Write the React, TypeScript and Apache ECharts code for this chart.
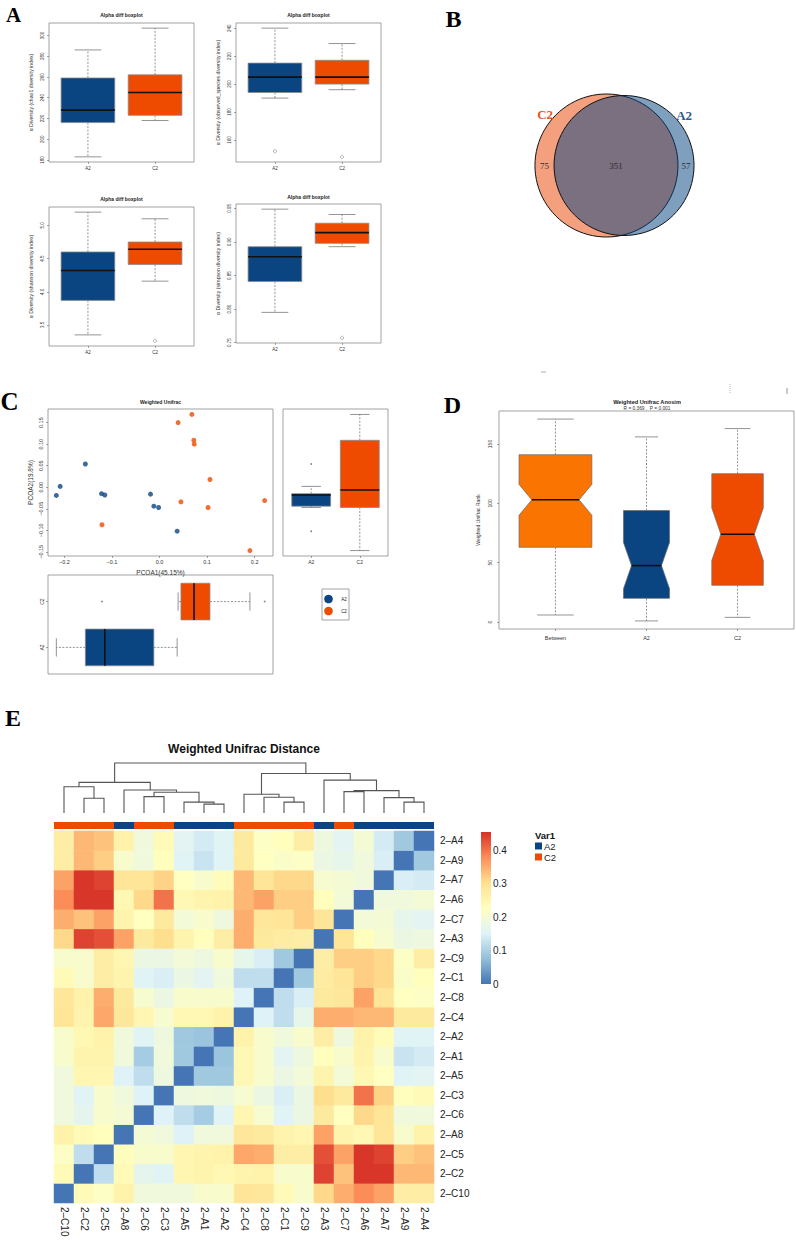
import React, { useEffect, useRef } from 'react';
import * as echarts from 'echarts';

const SANS = '"Liberation Sans", Arial, Helvetica, sans-serif';
const SERIF = '"Liberation Serif", "Times New Roman", serif';
const BLUE = '#0A4582';
const ORANGE = '#EF4B00';
const ORANGE_BETWEEN = '#F97400';

// ---------------- Panel A : alpha diversity ----------------
const alphaGroups = ['A2', 'C2'];
// [min, q1, median, q3, max] per group
const chao1Box = [[183, 216, 228, 259, 286], [218, 223, 245, 262, 307]];
const chao1Outliers: number[][] = [];
const chao1Ticks = [180, 200, 220, 240, 260, 280, 300];
const observedBox = [[190, 194, 205, 215, 240], [196, 200, 205, 217, 229]];
const observedOutliers = [[1, 152], [2, 148]];
const observedTicks = [160, 180, 200, 220, 240];
const shannonBox = [[3.35, 3.87, 4.32, 4.6, 5.2], [4.16, 4.41, 4.64, 4.75, 5.1]];
const shannonOutliers = [[2, 3.26]];
const shannonTicks = [3.5, 4.0, 4.5, 5.0];
const simpsonBox = [[0.795, 0.841, 0.878, 0.893, 0.949], [0.893, 0.898, 0.914, 0.928, 0.941]];
const simpsonOutliers = [[2, 0.757]];
const simpsonTicks = [0.75, 0.8, 0.85, 0.9, 0.95];

// ---------------- Panel B : Venn ----------------
const vennNames = ['C2', 'A2'];
const vennUnique = [75, 57];
const vennShared = 351;

// ---------------- Panel C : PCoA ----------------
const pcoaGroups = ['A2', 'C2'];
const pcoaA2 = [[-0.156, 0.054], [-0.209, 0.002], [-0.217, -0.019], [-0.122, -0.015], [-0.115, -0.018], [-0.019, -0.016], [-0.012, -0.044], [-0.002, -0.047], [0.037, -0.102]];
const pcoaC2 = [[0.068, 0.169], [0.039, 0.15], [0.072, 0.109], [0.073, 0.1], [0.106, 0.018], [0.045, -0.034], [0.102, -0.047], [0.221, -0.031], [-0.121, -0.087], [0.19, -0.147]];
const pcoaXTicks = [-0.2, -0.1, 0, 0.1, 0.2];
const pcoaYTicks = [-0.15, -0.1, -0.05, 0, 0.05, 0.1, 0.15];

// ---------------- Panel D : ANOSIM ----------------
const anosimGroups = ['Between', 'A2', 'C2'];
const anosimBox = [[6, 63, 103, 141, 171], [1, 20, 47.6, 94, 156], [4, 31, 74, 125, 163]];
const anosimN = [90, 36, 45];
const anosimTicks = [0, 50, 100, 150];

// ---------------- Panel E : distance heatmap ----------------
const heatSamples = ['2-C10', '2-C2', '2-C5', '2-A8', '2-C6', '2-C3', '2-A5', '2-A1', '2-A2', '2-C4', '2-C8', '2-C1', '2-C9', '2-A3', '2-C7', '2-A6', '2-A7', '2-A9', '2-A4'];
const distMatrix = [
  [0, 0.24, 0.22, 0.26, 0.19, 0.19, 0.19, 0.21, 0.21, 0.29, 0.285, 0.24, 0.21, 0.31, 0.35, 0.38, 0.36, 0.27, 0.27],
  [0.24, 0, 0.12, 0.24, 0.165, 0.155, 0.25, 0.255, 0.245, 0.255, 0.26, 0.21, 0.21, 0.44, 0.33, 0.45, 0.45, 0.34, 0.34],
  [0.22, 0.12, 0, 0.23, 0.21, 0.21, 0.25, 0.255, 0.26, 0.355, 0.35, 0.27, 0.27, 0.43, 0.36, 0.45, 0.44, 0.32, 0.33],
  [0.26, 0.24, 0.23, 0, 0.2, 0.19, 0.15, 0.19, 0.19, 0.285, 0.28, 0.255, 0.25, 0.36, 0.255, 0.245, 0.29, 0.21, 0.26],
  [0.19, 0.165, 0.21, 0.2, 0, 0.15, 0.12, 0.095, 0.155, 0.25, 0.205, 0.155, 0.18, 0.28, 0.225, 0.31, 0.29, 0.19, 0.19],
  [0.19, 0.155, 0.21, 0.19, 0.15, 0, 0.185, 0.19, 0.185, 0.205, 0.18, 0.145, 0.18, 0.305, 0.28, 0.4, 0.315, 0.23, 0.24],
  [0.19, 0.25, 0.25, 0.15, 0.12, 0.185, 0, 0.09, 0.09, 0.245, 0.21, 0.18, 0.195, 0.255, 0.195, 0.245, 0.225, 0.155, 0.16],
  [0.21, 0.255, 0.255, 0.19, 0.095, 0.19, 0.09, 0, 0.085, 0.245, 0.21, 0.16, 0.185, 0.23, 0.21, 0.255, 0.21, 0.13, 0.14],
  [0.21, 0.245, 0.26, 0.19, 0.155, 0.185, 0.09, 0.085, 0, 0.26, 0.21, 0.19, 0.21, 0.27, 0.185, 0.26, 0.235, 0.155, 0.155],
  [0.29, 0.255, 0.355, 0.285, 0.25, 0.205, 0.245, 0.245, 0.26, 0, 0.15, 0.12, 0.17, 0.35, 0.35, 0.34, 0.34, 0.28, 0.28],
  [0.285, 0.26, 0.35, 0.28, 0.205, 0.18, 0.21, 0.21, 0.21, 0.15, 0, 0.12, 0.145, 0.28, 0.285, 0.36, 0.29, 0.225, 0.22],
  [0.24, 0.21, 0.27, 0.255, 0.155, 0.145, 0.18, 0.16, 0.19, 0.12, 0.12, 0, 0.09, 0.275, 0.29, 0.32, 0.31, 0.215, 0.23],
  [0.21, 0.21, 0.27, 0.25, 0.18, 0.18, 0.195, 0.185, 0.21, 0.17, 0.145, 0.09, 0, 0.27, 0.32, 0.32, 0.31, 0.22, 0.27],
  [0.31, 0.44, 0.43, 0.36, 0.28, 0.305, 0.255, 0.23, 0.27, 0.35, 0.28, 0.275, 0.27, 0, 0.29, 0.23, 0.205, 0.18, 0.185],
  [0.35, 0.33, 0.36, 0.255, 0.225, 0.28, 0.195, 0.21, 0.185, 0.35, 0.285, 0.29, 0.32, 0.29, 0, 0.195, 0.2, 0.17, 0.16],
  [0.38, 0.45, 0.45, 0.245, 0.31, 0.4, 0.245, 0.255, 0.26, 0.34, 0.36, 0.32, 0.32, 0.23, 0.195, 0, 0.19, 0.19, 0.2],
  [0.36, 0.45, 0.44, 0.29, 0.29, 0.315, 0.225, 0.21, 0.235, 0.34, 0.29, 0.31, 0.31, 0.205, 0.2, 0.19, 0, 0.145, 0.14],
  [0.27, 0.34, 0.32, 0.21, 0.19, 0.23, 0.155, 0.13, 0.155, 0.28, 0.225, 0.215, 0.22, 0.18, 0.17, 0.19, 0.145, 0, 0.09],
  [0.27, 0.34, 0.33, 0.26, 0.19, 0.24, 0.16, 0.14, 0.155, 0.28, 0.22, 0.23, 0.27, 0.185, 0.16, 0.2, 0.14, 0.09, 0],
];
// hclust-style merges: negative = leaf (1-based column), positive = earlier merge (1-based); third = height
const dendroMerges = [
  [-8, -9, 0.178], [-2, -3, 0.296], [-7, 1, 0.217], [-12, -13, 0.217], [-18, -19, 0.217],
  [-5, -6, 0.328], [-17, 5, 0.308], [-11, 4, 0.316], [-10, 8, 0.375], [6, 3, 0.415],
  [-15, -16, 0.427], [11, 7, 0.447], [-4, 10, 0.461], [-1, 2, 0.526], [14, 13, 0.613],
  [-14, 12, 0.658], [9, 16, 0.79], [15, 17, 1.0],
];
const heatPalette = ['#4575B4', '#91BFDB', '#E0F3F8', '#FFFFBF', '#FEE090', '#FC8D59', '#D73027'];
const heatMax = 0.455;
const colorbarTicks = [0, 0.1, 0.2, 0.3, 0.4];

// ---------------- helpers ----------------
const rRange = (vals: number[]) => {
  const mn = Math.min(...vals), mx = Math.max(...vals);
  const e = (mx - mn) * 0.04;
  return [mn - e, mx + e];
};
const fmtNum = (v: number, d: number) => (v < -1e-12 ? '\u2212' : '') + Math.abs(v).toFixed(d);

function fivenum(arr: number[]) {
  const x = [...arr].sort((a, b) => a - b);
  const n = x.length;
  const n4 = Math.floor((n + 3) / 2) / 2;
  const d = [1, n4, (n + 1) / 2, n + 1 - n4, n];
  return d.map((p) => 0.5 * (x[Math.floor(p) - 1] + x[Math.ceil(p) - 1]));
}
function boxStats(arr: number[]) {
  const [, q1, md, q3] = fivenum(arr);
  const iqr = q3 - q1;
  const lo = q1 - 1.5 * iqr, hi = q3 + 1.5 * iqr;
  const inside = arr.filter((v) => v >= lo && v <= hi);
  const out = arr.filter((v) => v < lo || v > hi);
  return { stats: [Math.min(...inside), q1, md, q3, Math.max(...inside)], out };
}

const WHISKER = { stroke: '#666', lineWidth: 0.7, lineDash: [2, 1.5] };
const CAP = { stroke: '#666', lineWidth: 0.7 };

const boxRender = (colors: string[], horizontal: boolean) => (params: any, api: any) => {
  const c = api.value(0), mn = api.value(1), q1 = api.value(2), md = api.value(3), q3 = api.value(4), mx = api.value(5), w = api.value(6);
  const P = (cv: number, vv: number) => (horizontal ? api.coord([vv, cv]) : api.coord([cv, vv]));
  const line = (a: number[], b: number[], style: any) => ({ type: 'line', shape: { x1: a[0], y1: a[1], x2: b[0], y2: b[1] }, style });
  const p1 = P(c - w / 2, q1), p2 = P(c + w / 2, q3);
  return {
    type: 'group',
    children: [
      line(P(c, q3), P(c, mx), WHISKER),
      line(P(c, q1), P(c, mn), WHISKER),
      line(P(c - w / 4, mx), P(c + w / 4, mx), CAP),
      line(P(c - w / 4, mn), P(c + w / 4, mn), CAP),
      {
        type: 'rect',
        shape: { x: Math.min(p1[0], p2[0]), y: Math.min(p1[1], p2[1]), width: Math.abs(p2[0] - p1[0]), height: Math.abs(p2[1] - p1[1]) },
        style: { fill: colors[params.dataIndex], stroke: '#8a8a8a', lineWidth: 0.8 },
      },
      line(P(c - w / 2, md), P(c + w / 2, md), { stroke: '#111', lineWidth: 1.6 }),
    ],
  };
};

const NOTCH = 0.65;
const notchRender = (colors: string[]) => (params: any, api: any) => {
  const v = (k: number) => api.value(k);
  const c = v(0), mn = v(1), q1 = v(2), nlo = v(3), md = v(4), nhi = v(5), q3 = v(6), mx = v(7), w = v(8);
  const h = w / 2, hn = h * NOTCH;
  const P = (x: number, y: number) => api.coord([x, y]);
  const line = (a: number[], b: number[], style: any) => ({ type: 'line', shape: { x1: a[0], y1: a[1], x2: b[0], y2: b[1] }, style });
  const pts = [P(c - h, q1), P(c + h, q1), P(c + h, nlo), P(c + hn, md), P(c + h, nhi), P(c + h, q3), P(c - h, q3), P(c - h, nhi), P(c - hn, md), P(c - h, nlo)];
  return {
    type: 'group',
    children: [
      line(P(c, q3), P(c, mx), WHISKER),
      line(P(c, q1), P(c, mn), WHISKER),
      line(P(c - h / 2, mx), P(c + h / 2, mx), CAP),
      line(P(c - h / 2, mn), P(c + h / 2, mn), CAP),
      { type: 'polygon', shape: { points: pts }, style: { fill: colors[params.dataIndex], stroke: '#6a6a6a', lineWidth: 0.7 } },
      line(P(c - hn, md), P(c + hn, md), { stroke: '#111', lineWidth: 1.6 }),
    ],
  };
};

function valueAxis(gridIndex: number, range: number[], o: any = null) {
  if (!o) return { type: 'value', gridIndex, min: range[0], max: range[1], show: false, axisLine: { onZero: false } };
  return {
    type: 'value',
    gridIndex,
    min: range[0],
    max: range[1],
    position: o.position,
    axisLine: { show: false, onZero: false },
    splitLine: { show: false },
    axisTick: { show: o.tick !== false, customValues: o.ticks, length: 2, lineStyle: { color: '#666', width: 0.6 } },
    axisLabel: {
      show: true,
      customValues: o.ticks,
      formatter: o.fmt,
      rotate: o.rotate || 0,
      fontSize: o.size || 5,
      margin: o.margin == null ? 3 : o.margin,
      color: '#333',
      fontFamily: SANS,
    },
  };
}

function buildOption() {
  const grid: any[] = [], xAxis: any[] = [], yAxis: any[] = [], series: any[] = [], graphic: any[] = [];
  const addGrid = (rect: any, frame = true) => {
    grid.push({ ...rect, show: frame, borderColor: '#8c8c8c', borderWidth: 0.8, backgroundColor: 'transparent' });
    return grid.length - 1;
  };
  const text = (x: number, y: number, s: string, o: any = {}) =>
    graphic.push({
      type: 'text', x, y, rotation: o.rot || 0, silent: true,
      style: {
        text: s, fontSize: o.size || 6, fontFamily: o.family || SANS, fontWeight: o.bold ? 'bold' : 'normal',
        fill: o.color || '#222', align: o.align || 'center', verticalAlign: 'middle',
        textAlign: o.align || 'center', textVerticalAlign: 'middle',
      },
    });
  const boxSeries = (gi: number, items: number[][], colors: string[], horizontal: boolean) => ({
    type: 'custom', coordinateSystem: 'cartesian2d', xAxisIndex: gi, yAxisIndex: gi, silent: true, clip: false,
    renderItem: boxRender(colors, horizontal), data: items,
  });
  const outlierSeries = (gi: number, pts: number[][], hollow: boolean) => ({
    type: 'scatter', xAxisIndex: gi, yAxisIndex: gi, silent: true, symbol: 'circle', symbolSize: hollow ? 3.2 : 1.8,
    itemStyle: hollow ? { color: 'transparent', borderColor: '#666', borderWidth: 0.6 } : { color: '#666' },
    data: pts,
  });

  // ---------- Panel A ----------
  const alphaPanels = [
    { rect: { left: 49, top: 23, width: 145, height: 139 }, box: chao1Box, out: chao1Outliers, ticks: chao1Ticks, fmt: (v: number) => String(v), titleY: 15, ylab: 'α Diversity (chao1 diversity index)', ylabX: 31 },
    { rect: { left: 236, top: 23, width: 145, height: 139 }, box: observedBox, out: observedOutliers, ticks: observedTicks, fmt: (v: number) => String(v), titleY: 15, ylab: 'α Diversity (observed_species diversity index)', ylabX: 218 },
    { rect: { left: 49, top: 207, width: 145, height: 139 }, box: shannonBox, out: shannonOutliers, ticks: shannonTicks, fmt: (v: number) => v.toFixed(1), titleY: 199, ylab: 'α Diversity (shannon diversity index)', ylabX: 31 },
    { rect: { left: 236, top: 204, width: 145, height: 139 }, box: simpsonBox, out: simpsonOutliers, ticks: simpsonTicks, fmt: (v: number) => v.toFixed(2), titleY: 197, ylab: 'α Diversity (simpson diversity index)', ylabX: 218 },
  ];
  alphaPanels.forEach((p) => {
    const gi = addGrid(p.rect);
    const yR = rRange([...p.box.flat(), ...p.out.map((o) => o[1])]);
    const xR = rRange([0.5, p.box.length + 0.5]);
    xAxis.push(valueAxis(gi, xR, { ticks: [1, 2], fmt: (v: number) => alphaGroups[Math.round(v) - 1], size: 4.5, margin: 4 }));
    yAxis.push(valueAxis(gi, yR, { ticks: p.ticks, fmt: p.fmt, rotate: 90, size: 4.5, margin: 4 }));
    series.push(boxSeries(gi, p.box.map((b, i) => [i + 1, ...b, 0.8]), [BLUE, ORANGE], false));
    if (p.out.length) series.push(outlierSeries(gi, p.out, true));
    text(p.rect.left + p.rect.width / 2, p.titleY, 'Alpha diff boxplot', { size: 5, bold: true });
    text(p.ylabX, p.rect.top + p.rect.height / 2, p.ylab, { size: 5.2, rot: Math.PI / 2, color: '#333' });
  });

  // ---------- Panel B : Venn ----------
  const totals = [vennUnique[0] + vennShared, vennUnique[1] + vennShared];
  const r1 = Math.sqrt(totals[0] / Math.PI), r2 = Math.sqrt(totals[1] / Math.PI);
  const lens = (d: number) => {
    const a1 = Math.acos((d * d + r1 * r1 - r2 * r2) / (2 * d * r1));
    const a2 = Math.acos((d * d + r2 * r2 - r1 * r1) / (2 * d * r2));
    return r1 * r1 * a1 + r2 * r2 * a2 - 0.5 * Math.sqrt((-d + r1 + r2) * (d + r1 - r2) * (d - r1 + r2) * (d + r1 + r2));
  };
  let lo = Math.abs(r1 - r2) + 1e-6, hi = r1 + r2;
  for (let k = 0; k < 60; k++) {
    const mid = (lo + hi) / 2;
    if (lens(mid) > vennShared) lo = mid; else hi = mid;
  }
  const dist = (lo + hi) / 2;
  const gV = addGrid({ left: 520.5, top: 79.5, width: 196.5, height: 172 }, false);
  xAxis.push(valueAxis(gV, [-14, 18]));
  yAxis.push(valueAxis(gV, [-14, 14]));
  const vennFill = ['rgba(233,65,0,0.5)', 'rgba(0,64,128,0.5)'];
  const vennLabelColor = ['#E8552A', '#2F5A8C'];
  series.push({
    type: 'custom', coordinateSystem: 'cartesian2d', xAxisIndex: gV, yAxisIndex: gV, silent: true, clip: false,
    data: [[0, r1], [dist, r2]],
    renderItem: (params: any, api: any) => {
      const i = params.dataIndex;
      const c = api.coord([api.value(0), 0]);
      const rp = api.size([api.value(1), 0])[0];
      const ang = (40 * Math.PI) / 180;
      const sx = i === 0 ? -1 : 1;
      return {
        type: 'group',
        children: [
          { type: 'circle', shape: { cx: c[0], cy: c[1], r: rp }, style: { fill: vennFill[i], stroke: '#111', lineWidth: 1 } },
          {
            type: 'text',
            style: {
              text: vennNames[i], x: c[0] + sx * Math.cos(ang) * rp * 1.12, y: c[1] - Math.sin(ang) * rp * 1.12,
              fill: vennLabelColor[i], fontSize: 13, fontWeight: 'bold', fontFamily: SERIF,
              align: 'center', verticalAlign: 'middle', textAlign: 'center', textVerticalAlign: 'middle',
            },
          },
        ],
      };
    },
  });
  const vennCounts = [
    [(-r1 + dist - r2) / 2, vennUnique[0]],
    [(dist - r2 + r1) / 2, vennShared],
    [(r1 + dist + r2) / 2, vennUnique[1]],
  ];
  series.push({
    type: 'custom', coordinateSystem: 'cartesian2d', xAxisIndex: gV, yAxisIndex: gV, silent: true, clip: false,
    data: vennCounts,
    renderItem: (params: any, api: any) => {
      const c = api.coord([api.value(0), 0]);
      return {
        type: 'text',
        style: {
          text: String(api.value(1)), x: c[0], y: c[1], fill: '#2a2a2a', fontSize: 9, fontFamily: SERIF,
          align: 'center', verticalAlign: 'middle', textAlign: 'center', textVerticalAlign: 'middle',
        },
      };
    },
  });

  // ---------- Panel C : PCoA ----------
  const allPts = [...pcoaA2, ...pcoaC2];
  const pxR = rRange(allPts.map((p) => p[0]));
  const pyR = rRange(allPts.map((p) => p[1]));
  const gS = addGrid({ left: 48, top: 409, width: 225, height: 147 });
  xAxis.push(valueAxis(gS, pxR, { ticks: pcoaXTicks, fmt: (v: number) => fmtNum(v, 1), size: 5.5, margin: 3 }));
  yAxis.push(valueAxis(gS, pyR, { ticks: pcoaYTicks, fmt: (v: number) => fmtNum(v, 2), rotate: 90, size: 5.5, margin: 4 }));
  [pcoaA2, pcoaC2].forEach((pts, i) =>
    series.push({ type: 'scatter', xAxisIndex: gS, yAxisIndex: gS, silent: true, symbol: 'circle', symbolSize: 5, itemStyle: { color: i === 0 ? BLUE : ORANGE }, data: pts }),
  );
  text(160.5, 402, 'Weighted Unifrac', { size: 5, bold: true });
  text(30, 482.5, 'PCOA2(19.8%)', { size: 6.5, rot: Math.PI / 2, color: '#333' });
  text(160.5, 572, 'PCOA1(45.15%)', { size: 6.5, color: '#333' });

  const catR = rRange([0.5, 2.5]);
  // right box: PCoA2 by group
  const gR = addGrid({ left: 283, top: 409, width: 105, height: 147 });
  xAxis.push(valueAxis(gR, catR, { ticks: [1, 2], fmt: (v: number) => pcoaGroups[Math.round(v) - 1], size: 5, margin: 3 }));
  yAxis.push(valueAxis(gR, pyR));
  const yStats = [pcoaA2, pcoaC2].map((pts) => boxStats(pts.map((p) => p[1])));
  series.push(boxSeries(gR, yStats.map((s, i) => [i + 1, ...s.stats, 0.8]), [BLUE, ORANGE], false));
  series.push(outlierSeries(gR, yStats.flatMap((s, i) => s.out.map((v) => [i + 1, v])), false));
  // bottom box: PCoA1 by group
  const gB = addGrid({ left: 48, top: 575, width: 225, height: 99 });
  xAxis.push(valueAxis(gB, pxR));
  yAxis.push(valueAxis(gB, catR, { ticks: [1, 2], fmt: (v: number) => pcoaGroups[Math.round(v) - 1], rotate: 90, size: 5, margin: 4 }));
  const xStats = [pcoaA2, pcoaC2].map((pts) => boxStats(pts.map((p) => p[0])));
  series.push(boxSeries(gB, xStats.map((s, i) => [i + 1, ...s.stats, 0.8]), [BLUE, ORANGE], true));
  series.push(outlierSeries(gB, xStats.flatMap((s, i) => s.out.map((v) => [v, i + 1])), false));
  // legend
  graphic.push({ type: 'rect', shape: { x: 322, y: 589, width: 27, height: 31 }, style: { fill: '#fff', stroke: '#8c8c8c', lineWidth: 0.8 }, silent: true });
  graphic.push({ type: 'circle', shape: { cx: 328.5, cy: 599, r: 4.3 }, style: { fill: BLUE }, silent: true });
  graphic.push({ type: 'circle', shape: { cx: 328.5, cy: 611, r: 4.3 }, style: { fill: ORANGE }, silent: true });
  text(344, 599, 'A2', { size: 4.5 });
  text(344, 611, 'C2', { size: 4.5 });

  // ---------- Panel D : ANOSIM ----------
  const gD = addGrid({ left: 499, top: 411, width: 295, height: 218 });
  xAxis.push(valueAxis(gD, rRange([0.5, anosimGroups.length + 0.5]), { ticks: [1, 2, 3], fmt: (v: number) => anosimGroups[Math.round(v) - 1], size: 5.5, margin: 6 }));
  yAxis.push(valueAxis(gD, rRange(anosimBox.flat()), { ticks: anosimTicks, fmt: (v: number) => String(v), rotate: 90, size: 5, margin: 7 }));
  const nMax = Math.max(...anosimN);
  const dItems = anosimBox.map((b, i) => {
    const [mn, q1, md, q3, mx] = b;
    const half = (1.58 * (q3 - q1)) / Math.sqrt(anosimN[i]);
    return [i + 1, mn, q1, md - half, md, md + half, q3, mx, 0.8 * Math.sqrt(anosimN[i] / nMax)];
  });
  series.push({ type: 'custom', coordinateSystem: 'cartesian2d', xAxisIndex: gD, yAxisIndex: gD, silent: true, clip: false, renderItem: notchRender([ORANGE_BETWEEN, BLUE, ORANGE]), data: dItems });
  text(647, 401.5, 'Weighted Unifrac Anosim', { size: 5.6, bold: true });
  text(647, 408.2, 'R = 0.369 ,  P = 0.001', { size: 4.8, color: '#333' });
  text(478, 520, 'Weighted Unifrac Rank', { size: 5, rot: Math.PI / 2, color: '#333' });

  // ---------- Panel E : heatmap ----------
  const nS = heatSamples.length;
  const sampleLabel = (s: string) => s.replace('-', '\u2013');
  // dendrogram
  const pos: number[] = [], hgt: number[] = [];
  const node = (k: number) => (k < 0 ? [-k - 1, 0] : [pos[k - 1], hgt[k - 1]]);
  const dendroSegs = dendroMerges.map(([a, b, h], i) => {
    const [xa, ha] = node(a), [xb, hb] = node(b);
    pos[i] = (xa + xb) / 2;
    hgt[i] = h;
    return [xa, ha, xb, hb, h];
  });
  const gDen = addGrid({ left: 54, top: 763, width: 380, height: 50 }, false);
  xAxis.push(valueAxis(gDen, [-0.5, nS - 0.5]));
  yAxis.push(valueAxis(gDen, [0, 1]));
  series.push({
    type: 'custom', coordinateSystem: 'cartesian2d', xAxisIndex: gDen, yAxisIndex: gDen, silent: true, clip: false,
    data: dendroSegs,
    renderItem: (params: any, api: any) => {
      const xa = api.value(0), ha = api.value(1), xb = api.value(2), hb = api.value(3), h = api.value(4);
      return {
        type: 'polyline',
        shape: { points: [api.coord([xa, ha]), api.coord([xa, h]), api.coord([xb, h]), api.coord([xb, hb])] },
        style: { stroke: '#555', lineWidth: 1.1, fill: null },
      };
    },
  });
  // group annotation bar
  const gAnn = addGrid({ left: 54, top: 822, width: 380, height: 7 }, false);
  xAxis.push({ type: 'category', gridIndex: gAnn, data: heatSamples, show: false });
  yAxis.push(valueAxis(gAnn, [0, 1]));
  series.push({
    type: 'bar', xAxisIndex: gAnn, yAxisIndex: gAnn, silent: true, barWidth: '100%',
    data: heatSamples.map((s) => ({ value: 1, itemStyle: { color: s.indexOf('-A') >= 0 ? BLUE : ORANGE } })),
  });
  // heatmap
  const gH = addGrid({ left: 54, top: 831, width: 380, height: 372 }, false);
  xAxis.push({
    type: 'category', gridIndex: gH, data: heatSamples, position: 'bottom',
    axisLine: { show: false }, axisTick: { show: false }, splitLine: { show: false },
    axisLabel: { interval: 0, rotate: -90, fontSize: 10, margin: 4, color: '#222', fontFamily: SANS, formatter: sampleLabel },
  });
  yAxis.push({
    type: 'category', gridIndex: gH, data: heatSamples, position: 'right',
    axisLine: { show: false }, axisTick: { show: false }, splitLine: { show: false },
    axisLabel: { interval: 0, fontSize: 10, margin: 6, color: '#222', fontFamily: SANS, formatter: sampleLabel },
  });
  const heatData: number[][] = [];
  for (let i = 0; i < nS; i++) for (let j = 0; j < nS; j++) heatData.push([j, i, (distMatrix[i][j] + distMatrix[j][i]) / 2]);
  const heatIdx = series.length;
  series.push({ type: 'heatmap', xAxisIndex: gH, yAxisIndex: gH, silent: true, data: heatData, progressive: 0, emphasis: { disabled: true } });
  // colour bar
  const gCb = addGrid({ left: 481, top: 832, width: 10, height: 152 }, false);
  xAxis.push({ type: 'category', gridIndex: gCb, data: ['scale'], show: false });
  yAxis.push({
    type: 'value', gridIndex: gCb, min: 0, max: heatMax, position: 'right',
    axisLine: { show: false, onZero: false }, axisTick: { show: false }, splitLine: { show: false },
    axisLabel: { customValues: colorbarTicks, formatter: (v: number) => (v === 0 ? '0' : v.toFixed(1)), fontSize: 10, margin: 2, color: '#222', fontFamily: SANS },
  });
  series.push({
    type: 'bar', xAxisIndex: gCb, yAxisIndex: gCb, silent: true, barWidth: '100%',
    data: [heatMax],
    itemStyle: { color: new echarts.graphic.LinearGradient(0, 1, 0, 0, heatPalette.map((c, i) => ({ offset: i / (heatPalette.length - 1), color: c }))) },
  });
  text(244, 749, 'Weighted Unifrac Distance', { size: 12, bold: true, color: '#111' });
  text(535, 835, 'Var1', { size: 9.5, bold: true, align: 'left', color: '#111' });
  graphic.push({ type: 'rect', shape: { x: 535, y: 842.5, width: 7, height: 7 }, style: { fill: BLUE }, silent: true });
  graphic.push({ type: 'rect', shape: { x: 535, y: 853.5, width: 7, height: 7 }, style: { fill: ORANGE }, silent: true });
  text(544, 846, 'A2', { size: 9.5, align: 'left', color: '#222' });
  text(544, 857, 'C2', { size: 9.5, align: 'left', color: '#222' });

  // ---------- panel letters & small marks ----------
  text(13.5, 15, 'A', { family: SERIF, bold: true, size: 21, color: '#000' });
  text(453.5, 18.5, 'B', { family: SERIF, bold: true, size: 24, color: '#000' });
  text(9.5, 401.5, 'C', { family: SERIF, bold: true, size: 25, color: '#000' });
  text(452.5, 405, 'D', { family: SERIF, bold: true, size: 24, color: '#000' });
  text(13, 718, 'E', { family: SERIF, bold: true, size: 24, color: '#000' });
  graphic.push({ type: 'line', shape: { x1: 541, y1: 372, x2: 546, y2: 372 }, style: { stroke: '#999', lineWidth: 0.8 }, silent: true });
  graphic.push({ type: 'line', shape: { x1: 730, y1: 384, x2: 730, y2: 393 }, style: { stroke: '#aaa', lineWidth: 0.8, lineDash: [1, 1] }, silent: true });
  graphic.push({ type: 'line', shape: { x1: 787, y1: 388, x2: 787, y2: 394 }, style: { stroke: '#777', lineWidth: 0.8 }, silent: true });

  return {
    animation: false,
    backgroundColor: '#ffffff',
    textStyle: { fontFamily: SANS },
    grid, xAxis, yAxis, series, graphic,
    visualMap: [{ type: 'continuous', show: false, min: 0, max: heatMax, dimension: 2, seriesIndex: heatIdx, inRange: { color: heatPalette } }],
  };
}

export default function App() {
  const ref = useRef<HTMLDivElement>(null);
  useEffect(() => {
    if (!ref.current) return;
    const chart = echarts.init(ref.current, undefined, { renderer: 'svg', width: 796, height: 1240 });
    chart.setOption(buildOption() as any);
    return () => chart.dispose();
  }, []);
  return <div ref={ref} style={{ position: 'absolute', left: 0, top: 0, width: 796, height: 1240, background: '#fff' }} />;
}
